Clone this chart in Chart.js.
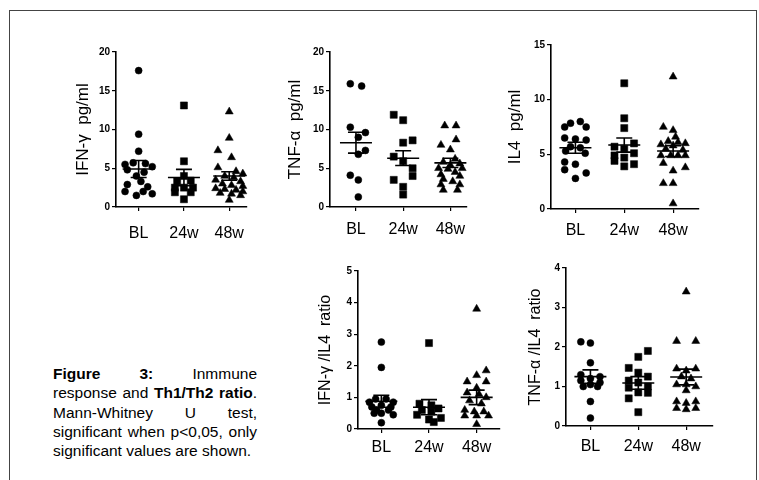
<!DOCTYPE html>
<html>
<head>
<meta charset="utf-8">
<script src="https://cdn.jsdelivr.net/npm/chart.js@4.4.1/dist/chart.umd.min.js"></script>
<style>
  body { margin: 0; width: 759px; height: 480px; background: #fff; position: relative; overflow: hidden; font-family: 'Liberation Sans', Arial, sans-serif; }
  #frame { position: absolute; left: 9px; top: 10px; width: 746px; height: 500px; border: 1.5px solid #444; }
  canvas { position: absolute; }
  #caption { position: absolute; left: 53px; top: 364px; width: 204px; font-size: 15.5px; line-height: 19.3px; color: #000; }
  #caption div { text-align: justify; text-align-last: justify; white-space: nowrap; }
  #caption div.last { text-align: left; text-align-last: left; }
</style>
</head>
<body>
<div id="frame"></div>
<div id="caption">
  <div><b>Figure 3:</b> Inmmune</div>
  <div>response and <b>Th1/Th2 ratio</b>.</div>
  <div>Mann-Whitney U test,</div>
  <div>significant when p&lt;0,05, only</div>
  <div class="last">significant values are shown.</div>
</div>
<script>
// grupos (eixo x)
const groups = ["BL", "24w", "48w"];

// pontos: [deslocamento horizontal, valor]
// IFN-γ pg/ml
const ifnBL = [[0,17.6],[0,9.4],[0,7.2],[-0.3,5.5],[-0.12,5.7],[0.15,5.6],[0.3,5.2],[-0.25,4.8],[0.12,4.5],[-0.05,4.0],[0.05,3.3],[-0.25,2.9],[0.2,2.6],[-0.3,2.0],[0.1,2.0],[0.3,1.7],[-0.05,1.5]];
const ifn24 = [[0,13.1],[0,5.9],[0,4.0],[-0.15,3.3],[0.15,3.4],[-0.2,2.5],[0,2.5],[0.2,2.5],[-0.2,1.9],[0.15,1.9],[0,1.0]];
const ifn48 = [[0,12.3],[0,8.9],[-0.25,7.3],[0.05,6.4],[-0.25,5.1],[0.15,4.6],[0.3,4.3],[-0.1,4.0],[0.1,3.8],[-0.3,3.5],[0.25,3.3],[-0.15,3.0],[0.05,2.8],[0.3,2.7],[-0.3,2.4],[-0.1,2.3],[0.15,2.2],[0.3,2.0],[-0.2,1.8],[0.05,1.7],[0.25,1.5],[0,0.9]];
const ifnMean = [4.9, 3.8, 4.0];
const ifnSem = [1.1, 1.05, 0.55];

// TNF-α pg/ml
const tnfBL = [[-0.12,15.9],[0.12,15.6],[-0.12,10.3],[0.2,9.6],[0.05,9.0],[0.2,7.3],[0.05,6.8],[-0.12,4.1],[0.05,3.5],[0.05,1.3]];
const tnf24 = [[-0.2,11.9],[0,11.2],[0,8.3],[0.2,8.6],[-0.2,6.5],[0,5.9],[0.2,5.0],[0.2,4.0],[-0.2,3.5],[0,2.6],[0,1.6]];
const tnf48 = [[-0.12,10.5],[0.12,10.5],[0.12,8.7],[-0.2,8.0],[0,7.4],[0.1,6.2],[-0.15,5.8],[0.2,5.6],[0,5.4],[-0.25,5.0],[0.25,5.0],[-0.05,4.9],[0.1,4.5],[-0.2,4.2],[0.2,4.0],[-0.15,3.6],[0.05,3.3],[-0.2,2.9],[0.2,2.9],[-0.15,2.2],[0.15,2.2]];
const tnfMean = [8.3, 6.3, 5.7];
const tnfSem = [1.35, 0.95, 0.6];

// IL4 pg/ml
const il4BL = [[0.1,8.0],[-0.1,7.85],[-0.22,7.5],[0.22,7.5],[-0.22,6.5],[0,6.4],[0.22,6.3],[-0.1,5.7],[0.1,5.6],[-0.2,5.3],[0.2,5.1],[-0.22,4.3],[0,4.1],[-0.22,3.6],[0.22,3.3],[0,2.8]];
const il424 = [[0,11.5],[0,8.3],[0,7.4],[0.2,6.0],[-0.2,5.7],[0,5.5],[0.2,5.1],[-0.2,4.9],[0,4.7],[-0.2,4.4],[0.2,4.1],[0,3.9]];
const il448 = [[0,12.1],[-0.2,7.5],[0,7.2],[0.05,6.6],[-0.1,6.2],[0.1,6.1],[-0.25,5.9],[0.25,6.0],[0,5.8],[-0.15,5.5],[0.2,5.4],[-0.25,4.9],[-0.05,4.9],[0.1,4.9],[0.25,4.9],[-0.2,4.2],[0.25,3.8],[0,3.5],[-0.2,2.35],[0,2.35],[0,0.5]];
const il4Mean = [5.6, 5.85, 5.3];
const il4Sem = [0.5, 0.65, 0.5];

// IFN-γ /IL4 ratio
const rIfnBL = [[0,2.75],[0,1.95],[-0.12,0.95],[0.1,0.95],[-0.25,0.85],[0.25,0.85],[-0.2,0.7],[0,0.75],[0.2,0.7],[-0.1,0.6],[0.15,0.6],[-0.15,0.5],[0.25,0.45],[0,0.5],[0,0.2]];
const rIfn24 = [[0,2.72],[-0.2,0.8],[0.05,0.75],[0.2,0.65],[-0.15,0.6],[0.05,0.55],[-0.25,0.45],[0.25,0.35],[0,0.3],[0.1,0.22]];
const rIfn48 = [[0,3.8],[0.2,1.85],[0,1.7],[-0.2,1.5],[0.2,1.5],[0,1.3],[-0.2,1.15],[0.05,1.1],[0.2,1.0],[-0.15,0.9],[0.1,0.8],[-0.25,0.6],[-0.05,0.55],[0.15,0.55],[-0.25,0.42],[0,0.42],[0.25,0.42],[0,0.15]];
const rIfnMean = [0.88, 0.69, 1.0];
const rIfnSem = [0.19, 0.24, 0.23];

// TNF-α /IL4 ratio
const rTnfBL = [[-0.2,2.13],[0,2.1],[0,1.6],[-0.2,1.3],[0.2,1.25],[0,1.2],[-0.2,1.15],[0.2,1.1],[0,1.05],[-0.15,1.0],[0.15,1.0],[0,0.62],[0,0.2]];
const rTnf24 = [[0.2,1.9],[0,1.75],[-0.2,1.47],[0,1.35],[0.2,1.25],[-0.2,1.15],[0,1.1],[0.2,1.0],[-0.2,0.97],[0,0.85],[0.2,0.84],[-0.2,0.7],[0,0.35]];
const rTnf48 = [[0,3.4],[-0.2,2.15],[0.2,2.15],[-0.2,1.45],[0,1.4],[0.2,1.45],[-0.1,1.25],[0.1,1.2],[-0.2,1.05],[0,1.05],[0.2,1.0],[0,0.9],[-0.2,0.62],[0.2,0.62],[0,0.58],[-0.2,0.45],[0,0.42],[0.2,0.45]];
const rTnfMean = [1.25, 1.09, 1.24];
const rTnfSem = [0.17, 0.16, 0.2];

const markers = ["circle", "rect", "triangle"];
const markerSize = [3.5, 5, 4.6];

Chart.defaults.font.family = "'Liberation Sans', Arial, sans-serif";
Chart.defaults.color = "#000";

// painéis: posição do eixo na página
const panels = [
  { axisX: 115.7, right: 250, top: 52.3, bottom: 207.7, xMin: 0.5, xMax: 3.39, yMax: 20, step: 5,
    title: "IFN-γ  pg/ml", titleSize: 17, titleGap: 33, labelPad: 13, sets: [ifnBL, ifn24, ifn48], means: ifnMean, sems: ifnSem },
  { axisX: 330, right: 466.7, top: 52.3, bottom: 207.3, xMin: 0.45, xMax: 3.34, yMax: 20, step: 5,
    title: "TNF-α  pg/ml", titleSize: 17, titleGap: 35, labelPad: 9, sets: [tnfBL, tnf24, tnf48], means: tnfMean, sems: tnfSem },
  { axisX: 550.7, right: 699, top: 45, bottom: 209, xMin: 0.5, xMax: 3.53, yMax: 15, step: 5,
    title: "IL4  pg/ml", titleSize: 17, titleGap: 35.7, labelPad: 8, sets: [il4BL, il424, il448], means: il4Mean, sems: il4Sem },
  { axisX: 358.3, right: 500, top: 270.7, bottom: 428.3, xMin: 0.51, xMax: 3.49, yMax: 5, step: 1,
    title: "IFN-γ /IL4  ratio", titleSize: 16, titleGap: 32, labelPad: 5, sets: [rIfnBL, rIfn24, rIfn48], means: rIfnMean, sems: rIfnSem },
  { axisX: 565.7, right: 713, top: 268.3, bottom: 426.7, xMin: 0.49, xMax: 3.56, yMax: 4, step: 1,
    title: "TNF-α /IL4  ratio", titleSize: 16, titleGap: 30.7, labelPad: 7, sets: [rTnfBL, rTnf24, rTnf48], means: rTnfMean, sems: rTnfSem },
];

// linha da média e barras do erro padrão
const meanSem = {
  id: "meanSem",
  afterDatasetsDraw(chart, args, opts) {
    const { ctx, scales: { x, y } } = chart;
    ctx.save();
    ctx.strokeStyle = "#000";
    ctx.lineWidth = 1.6;
    opts.means.forEach((m, i) => {
      const cx = x.getPixelForValue(i + 1);
      const ym = y.getPixelForValue(m);
      const yt = y.getPixelForValue(m + opts.sems[i]);
      const yb = y.getPixelForValue(m - opts.sems[i]);
      ctx.beginPath();
      ctx.moveTo(cx - 16, ym); ctx.lineTo(cx + 16, ym);
      ctx.moveTo(cx - 8, yt); ctx.lineTo(cx + 8, yt);
      ctx.moveTo(cx - 8, yb); ctx.lineTo(cx + 8, yb);
      ctx.moveTo(cx, yt); ctx.lineTo(cx, yb);
      ctx.stroke();
    });
    ctx.restore();
  },
};

const L = 70, T = 12, R = 8, B = 45;

panels.forEach((p) => {
  const canvas = document.createElement("canvas");
  const w = Math.round(p.right - p.axisX) + L + R;
  const h = Math.round(p.bottom - p.top) + T + B;
  canvas.width = w;
  canvas.height = h;
  canvas.style.left = (p.axisX - L) + "px";
  canvas.style.top = (p.top - T) + "px";
  document.body.appendChild(canvas);

  const lh = p.titleSize * 1.2;

  new Chart(canvas, {
    type: "scatter",
    data: {
      datasets: p.sets.map((pts, g) => ({
        data: pts.map(([dx, v]) => ({ x: g + 1 + dx, y: v })),
        pointStyle: markers[g],
        pointRadius: markerSize[g],
        backgroundColor: "#000",
        borderColor: "#000",
        borderWidth: 0.5,
      })),
    },
    options: {
      responsive: false,
      animation: false,
      clip: false,
      layout: { padding: { left: 0, top: T, right: R, bottom: 0 } },
      plugins: {
        legend: { display: false },
        tooltip: { enabled: false },
        meanSem: { means: p.means, sems: p.sems },
      },
      scales: {
        x: {
          type: "linear",
          min: p.xMin,
          max: p.xMax,
          afterBuildTicks: (s) => { s.ticks = [1, 2, 3].map((v) => ({ value: v })); },
          afterFit: (s) => { s.height = B; },
          ticks: { callback: (v, i) => groups[i], font: { size: 16 }, padding: p.labelPad, maxRotation: 0 },
          grid: { drawOnChartArea: false, drawTicks: true, tickLength: 4, color: "#000", lineWidth: 1.2 },
          border: { display: true, color: "#000", width: 1.6 },
        },
        y: {
          min: 0,
          max: p.yMax,
          ticks: { stepSize: p.step, font: { size: 10, weight: "bold" }, padding: 2 },
          afterFit: (s) => { s.width = L; },
          grid: { drawOnChartArea: false, drawTicks: true, tickLength: 4, color: "#000", lineWidth: 1.2 },
          border: { display: true, color: "#000", width: 1.6 },
          title: {
            display: true,
            text: p.title,
            font: { size: p.titleSize },
            padding: { top: L - p.titleGap - lh / 2, bottom: 0 },
          },
        },
      },
    },
    plugins: [meanSem],
  });
});
</script>
</body>
</html>
